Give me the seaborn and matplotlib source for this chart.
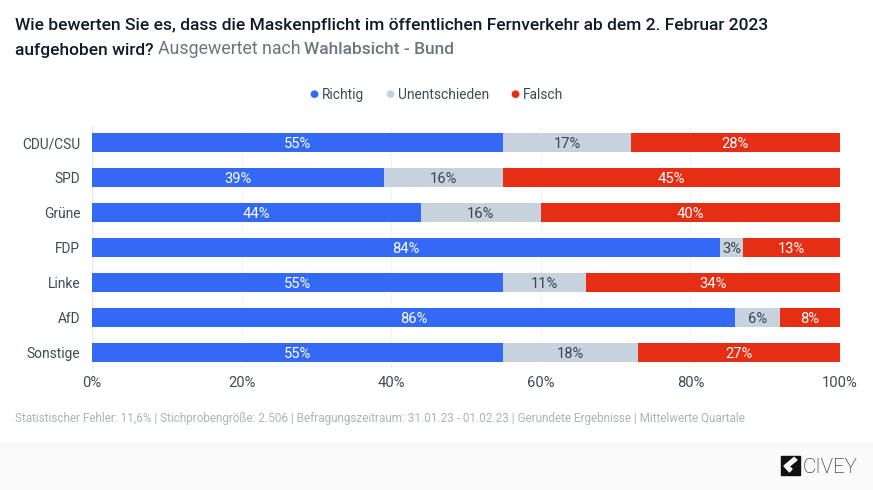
import matplotlib
matplotlib.use('Agg')
import matplotlib.pyplot as plt
import numpy as np
import pandas as pd
import seaborn as sns
from matplotlib.patches import Rectangle, Polygon

sns.set_theme(style='white')
plt.rcParams['font.family'] = ['Roboto', 'DejaVu Sans']

W, H = 873, 490

parties = ['CDU/CSU', 'SPD', 'Grüne', 'FDP', 'Linke', 'AfD', 'Sonstige']
richtig = [55, 39, 44, 84, 55, 86, 55]
unentschieden = [17, 16, 16, 3, 11, 6, 18]
falsch = [28, 45, 40, 13, 34, 8, 27]
answers = ['Richtig', 'Unentschieden', 'Falsch']
colors = ['#3369f5', '#c6d2dc', '#e52e13']
label_colors = ['white', '#3a4454', 'white']
xticks = [0, 20, 40, 60, 80, 100]
xticklabels = ['0%', '20%', '40%', '60%', '80%', '100%']

title_dark = '#0f1a2b'
title_grey = '#6c7683'
tick_col = '#3f4a59'
foot_col = '#adb3bb'


# pixel coords from top left -> figure coords
def fx(px):
    return px / W


def fy(py):
    return 1 - py / H


# several text pieces on one line, each starts where the last one ended
def text_row(fig, x, y, parts):
    r = fig.canvas.get_renderer()
    for s, col, weight, size in parts:
        t = fig.text(fx(x), fy(y), s, fontsize=size, color=col, fontweight=weight, va='baseline')
        bb = t.get_window_extent(r)
        x = bb.x1 + 4


fig = plt.figure(figsize=(W / 100, H / 100), dpi=100, facecolor='white')
fig.patches.append(Rectangle((0, 0), 1, fy(442), transform=fig.transFigure, color='#fafafa', zorder=-5))

ax = fig.add_axes([fx(92), fy(370), (840 - 92) / W, (370 - 125) / H])

df = pd.DataFrame({'party': parties, 'Richtig': richtig, 'Unentschieden': unentschieden, 'Falsch': falsch})
left = np.zeros(len(df))
for answer, col, lab_col in zip(answers, colors, label_colors):
    sns.barplot(data=df, x=answer, y='party', orient='h', color=col, saturation=1, width=0.52,
                left=left, ax=ax, zorder=3, order=parties, linewidth=0)
    for i, v in enumerate(df[answer]):
        ax.text(left[i] + v / 2, i, f'{v}%', ha='center', va='center_baseline', color=lab_col,
                fontsize=10.6, zorder=4)
    left = left + df[answer].values

ax.set_xlim(0, 100)
ax.set_ylim(6.5, -0.5)
ax.set_xlabel('')
ax.set_ylabel('')
ax.set_xticks(xticks)
ax.set_xticklabels(xticklabels)
ax.tick_params(axis='x', length=0, pad=4, labelsize=10.6, labelcolor=tick_col)
ax.tick_params(axis='y', length=0, pad=8.5, labelsize=9.9, labelcolor=tick_col)
ax.grid(axis='x', color='#dfe2e6', linestyle=':', linewidth=0.8, zorder=0)
sns.despine(ax=ax, left=True, bottom=True, top=True, right=True)
ax.axvline(0, color='#e8eaed', lw=1, zorder=1)

# title
fig.canvas.draw()
text_row(fig, 15, 30, [('Wie bewerten Sie es, dass die Maskenpflicht im öffentlichen Fernverkehr ab dem 2. Februar 2023',
                        title_dark, 'medium', 12.53)])
text_row(fig, 15, 54.5, [('aufgehoben wird?', title_dark, 'medium', 12.53),
                         ('Ausgewertet nach', title_grey, 'normal', 12.8),
                         ('Wahlabsicht - Bund', title_grey, 'medium', 12.53)])

# legend
for px, s, col in [(310, 'Richtig', colors[0]), (386, 'Unentschieden', colors[1]), (511, 'Falsch', colors[2])]:
    fig.text(fx(px + 3.5), fy(94.5), '●', color=col, fontsize=7.5, ha='center', va='center', family='DejaVu Sans')
    fig.text(fx(px + 12), fy(94.8), s, color=tick_col, fontsize=9.9, ha='left', va='center')

# footer
fig.text(fx(15), fy(422), 'Statistischer Fehler: 11,6% | Stichprobengröße: 2.506 | Befragungszeitraum: 31.01.23 - 01.02.23 '
         '| Gerundete Ergebnisse | Mittelwerte Quartale', color=foot_col, fontsize=8.5, va='baseline')

# civey logo
fig.patches.append(Rectangle((fx(781), fy(475)), 19 / W, 19 / H, transform=fig.transFigure, color='#111111'))
fig.patches.append(Polygon([(fx(784), fy(466)), (fx(794), fy(457.5)), (fx(797), fy(460)), (fx(789), fy(466.5)),
                            (fx(792), fy(469)), (fx(789.5), fy(472))], transform=fig.transFigure, color='#fafafa'))
fig.text(fx(803), fy(472.5), 'CIVEY', color='#111111', fontsize=14.8, va='baseline', fontweight='light')

fig.savefig('out.png', dpi=100, facecolor='white')
